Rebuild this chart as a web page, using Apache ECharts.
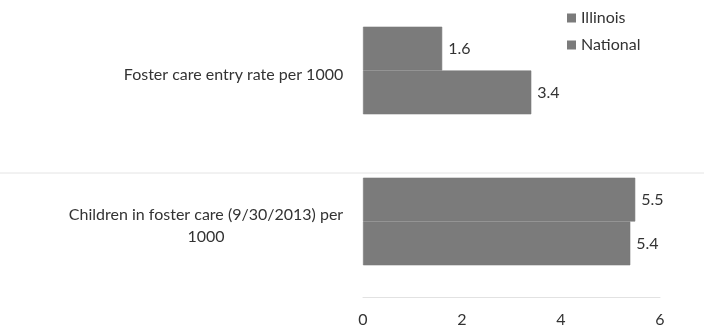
<!DOCTYPE html>
<html>
<head>
<meta charset="utf-8">
<script src="https://cdn.jsdelivr.net/npm/echarts@6/dist/echarts.min.js"></script>
<style>
  html, body { margin: 0; padding: 0; background: #fff; overflow: hidden; }
  #chart { width: 704px; height: 339px; margin-top: -5px; }
</style>
</head>
<body>
<div id="chart"></div>
<script>
// Categories (a '\n' marks where a long label wraps)
const categories = [
  'Foster care entry rate per 1000',
  'Children in foster care (9/30/2013) per\n1000'
];
const seriesNames = ['Illinois', 'National'];
const illinoisValues = [1.6, 5.5];
const nationalValues = [3.4, 5.4];
const xTicks = [0, 2, 4, 6];

const FONT = 'Lato, "Open Sans", sans-serif';
const TEXT = '#333333';
const BAR = '#7b7b7b';
const SIZE = 16;

// Width of the widest line in a wrapped label, so every line can be centred in that width
function widestLine(text, size) {
  const ctx = document.createElement('canvas').getContext('2d');
  ctx.font = size + 'px ' + FONT;
  return Math.max(...text.split('\n').map(l => ctx.measureText(l).width));
}

const rich = {};
categories.forEach((c, i) => {
  rich['c' + i] = {
    width: Math.ceil(widestLine(c, SIZE)) + 1,
    align: 'center',
    fontSize: SIZE,
    fontFamily: FONT,
    color: TEXT,
    lineHeight: 22
  };
});

const chart = echarts.init(document.getElementById('chart'), null, { renderer: 'canvas' });

const valueLabel = { show: true, position: 'right', distance: 6, color: TEXT, fontSize: SIZE, fontFamily: FONT };
// A hairline border in the fill colour closes the seam between touching bars
const barStyle = { color: BAR, borderColor: BAR, borderWidth: 0.6 };

chart.setOption({
  animation: false,
  backgroundColor: '#fff',
  textStyle: { fontFamily: FONT },
  legend: {
    orient: 'vertical',
    left: 562,
    top: 10,
    itemWidth: 9,
    itemHeight: 9,
    itemGap: 11,
    icon: 'rect',
    itemStyle: { borderWidth: 0 },
    textStyle: { fontSize: SIZE, color: TEXT, fontFamily: FONT },
    data: seriesNames
  },
  grid: { left: 363, right: 44, top: 0, bottom: 37 },
  xAxis: {
    type: 'value',
    min: xTicks[0],
    max: xTicks[xTicks.length - 1],
    interval: xTicks[1] - xTicks[0],
    axisLine: { show: true, lineStyle: { color: '#e2e2e2', width: 1 } },
    axisTick: { show: false },
    splitLine: { show: false },
    axisLabel: { color: TEXT, fontSize: SIZE, fontFamily: FONT, margin: 15 }
  },
  yAxis: {
    type: 'category',
    inverse: true,
    data: categories,
    axisLine: { show: false },
    axisTick: { show: false },
    axisLabel: {
      margin: 19,
      padding: [9, 0, 0, 0],
      formatter: function (value, idx) {
        return value.split('\n').map(l => '{c' + idx + '|' + l + '}').join('\n');
      },
      rich: rich
    }
  },
  graphic: [{
    type: 'line',
    shape: { x1: 0, y1: 178, x2: 704, y2: 178 },
    style: { stroke: '#e4e4e4', lineWidth: 1 },
    silent: true
  }],
  series: [
    {
      name: seriesNames[0],
      type: 'bar',
      data: illinoisValues,
      barGap: '0%',
      barCategoryGap: '42%',
      itemStyle: barStyle,
      label: valueLabel
    },
    {
      name: seriesNames[1],
      type: 'bar',
      data: nationalValues,
      barGap: '0%',
      barCategoryGap: '42%',
      itemStyle: barStyle,
      label: valueLabel
    }
  ]
});
</script>
</body>
</html>
